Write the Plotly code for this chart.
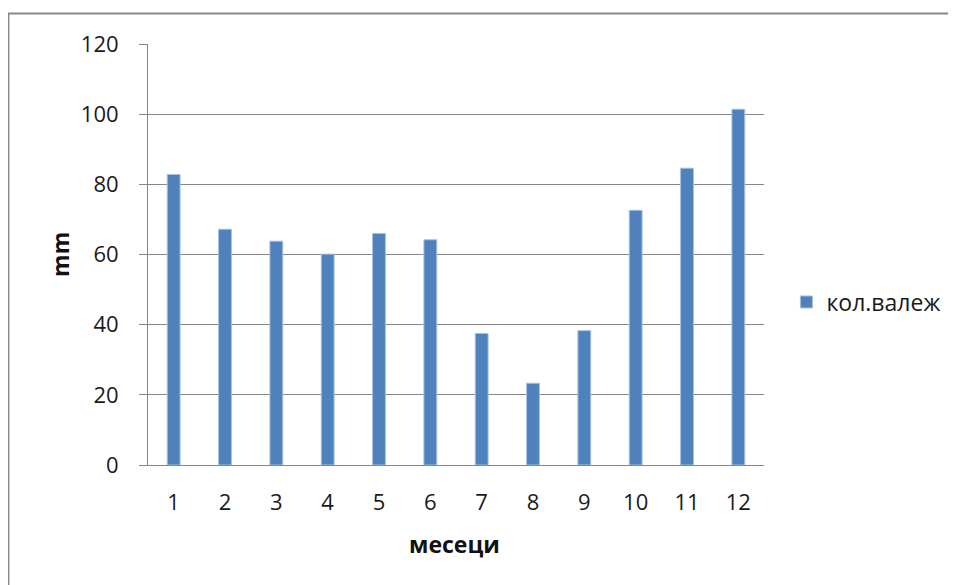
import plotly.graph_objects as go

months = ["1", "2", "3", "4", "5", "6", "7", "8", "9", "10", "11", "12"]
rainfall = [82.8, 67.2, 63.8, 60.1, 66.0, 64.2, 37.5, 23.3, 38.3, 72.6, 84.6, 101.4]
series_name = "кол.валеж"
y_ticks = [0, 20, 40, 60, 80, 100, 120]
x_title = "месеци"
y_title = "mm"

FONT = "Open Sans, Noto Sans, DejaVu Sans, sans-serif"
GRID = "#868686"

OFF = 8  # page body margin
W, H = 956, 585
L = 148 - OFF
T = 44 - OFF
B = H - (465 - OFF)
R = W - (763.6 - OFF)
pw = W - L - R
ph = H - T - B

def px_x(p):
    return (p - OFF - L) / pw

def px_y(p):
    return (H - B - (p - OFF)) / ph

fig = go.Figure()
fig.add_trace(go.Bar(
    x=months, y=rainfall, name=series_name,
    marker=dict(color="#4F81BD", line=dict(color="#A7C0DE", width=1)),
    width=0.25,
))

fig.update_layout(
    width=W, height=H,
    margin=dict(l=L, r=R, t=T, b=B, autoexpand=False),
    paper_bgcolor="white", plot_bgcolor="white",
    font=dict(family=FONT, size=22, color="#1a1a1a"),
    showlegend=True,
    legend=dict(x=px_x(786), y=px_y(302), xanchor="left", yanchor="middle",
                font=dict(size=23, color="#1a1a1a"), itemwidth=30, bgcolor="rgba(0,0,0,0)"),
    xaxis=dict(type="category", showgrid=False, showline=True, linecolor=GRID, linewidth=1,
               ticks="", ticklabelstandoff=18, tickfont=dict(size=22)),
    yaxis=dict(range=[0, 120], tickvals=y_ticks, showgrid=True, gridcolor=GRID, gridwidth=1,
               showline=True, linecolor=GRID, linewidth=1, ticks="outside", ticklen=8,
               tickcolor=GRID, ticklabelstandoff=16, zeroline=False, tickfont=dict(size=22)),
    bargap=0.75,
)

fig.add_annotation(text="<b>" + y_title + "</b>", xref="paper", yref="paper",
                   x=px_x(60), y=px_y(254), xanchor="center", yanchor="middle",
                   textangle=-90, showarrow=False,
                   font=dict(size=23, color="#111"))
fig.add_annotation(text="<b>" + x_title + "</b>", xref="paper", yref="paper",
                   x=px_x(454), y=px_y(544), xanchor="center", yanchor="middle",
                   showarrow=False,
                   font=dict(size=23, color="#111"))

fig.add_shape(type="rect", xref="paper", yref="paper",
              x0=px_x(8.5), x1=px_x(955), y0=px_y(640), y1=px_y(13.5),
              line=dict(color="#888888", width=2), fillcolor="rgba(0,0,0,0)", layer="below")

fig.write_html("out.html", config={"displayModeBar": False})
